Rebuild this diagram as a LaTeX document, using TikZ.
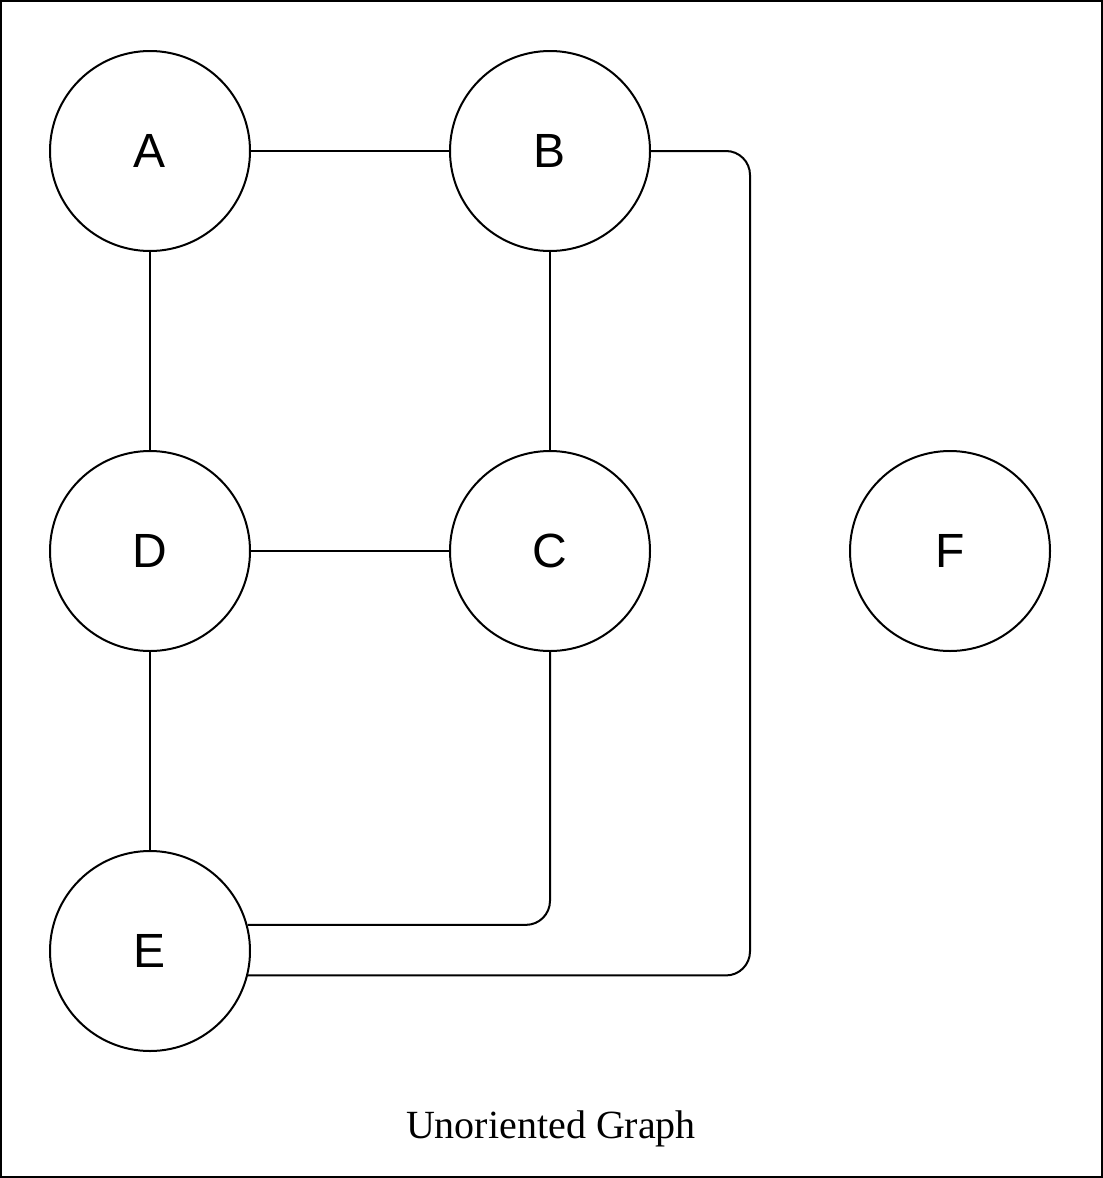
\documentclass[tikz,border=0pt]{standalone}
\usepackage{fontspec}
\setmainfont{Liberation Serif}
\newfontfamily\labelfont{Liberation Sans}
\begin{document}
\begin{tikzpicture}[x=0.5pt,y=-0.5pt,
  vertex/.style={draw, circle, line width=1pt, minimum size=100pt, inner sep=0pt,
                 font=\labelfont\fontsize{24}{28}\selectfont},
  edge/.style={line width=1pt},
  frame/.style={draw, line width=1pt}]
  % page frame
  \useasboundingbox (0,0) rectangle (1103,1178);
  \draw[frame] (1,1) rectangle (1102,1177);

  % vertices
  \node[vertex] (A) at (150,151) {A};
  \node[vertex] (B) at (550,151) {B};
  \node[vertex] (D) at (150,551) {D};
  \node[vertex] (C) at (550,551) {C};
  \node[vertex] (F) at (950,551) {F};
  \node[vertex] (E) at (150,951) {E};

  \coordinate (bend) at (750,551);

  % edges
  \draw[edge] (A) -- (B);
  \draw[edge] (A) -- (D);
  \draw[edge] (B) -- (C);
  \draw[edge] (D) -- (C);
  \draw[edge] (D) -- (E);
  \draw[edge, rounded corners=12pt] (E.15) -| (C.south);
  \draw[edge, rounded corners=12pt] (B.east) -| (bend) |- (E.-14);

  % caption
  \node[font=\fontsize{20}{24}\selectfont] (title) at (551,1129) {Unoriented Graph};
\end{tikzpicture}
\end{document}
